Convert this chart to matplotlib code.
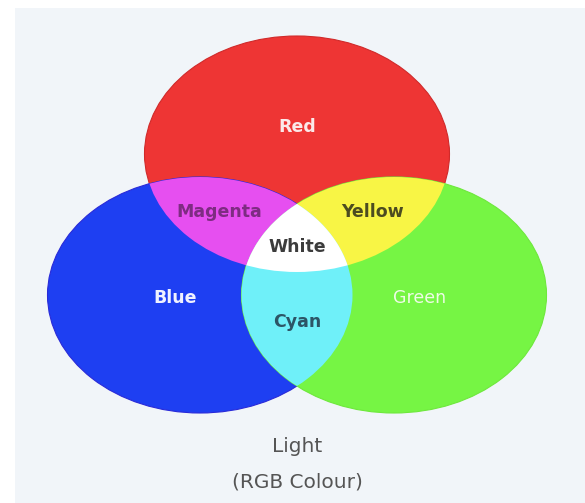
import numpy as np
import matplotlib
matplotlib.use("Agg")
import matplotlib.pyplot as plt
from matplotlib.patches import Ellipse, Rectangle, Polygon

# ---- data ----
primary_names = ["Red", "Blue", "Green"]
primary_colors = ["#ee3534", "#1e3ff2", "#76f544"]
pair_names = ["Magenta", "Yellow", "Cyan"]
pair_colors = ["#e64ff0", "#f8f545", "#6ff0f9"]
center_name = "White"
center_color = "#ffffff"
title_lines = ["Light", "(RGB Colour)"]

# ---- layout (pixel coordinates) ----
W, H = 585, 503
ell_w, ell_h = 305, 236
centers = {"Red": (297, 154), "Blue": (200, 295), "Green": (394, 295)}

fig = plt.figure(figsize=(W / 100, H / 100), dpi=100)
ax = fig.add_axes([0, 0, 1, 1])
ax.set_xlim(0, W)
ax.set_ylim(H, 0)
ax.axis("off")
fig.patch.set_facecolor("white")
ax.add_patch(Rectangle((15, 8), W - 15, H - 8, facecolor="#f1f5f9", edgecolor="none", zorder=0))

edge_cols = {"Red": "#d02a2a", "Blue": "#2a2ad8", "Green": "#6ee83c"}

def make_ell(name, **kw):
    return Ellipse(centers[name], ell_w, ell_h, **kw)

ells = {}
for n, c in zip(primary_names, primary_colors):
    e = make_ell(n, facecolor=c, edgecolor=edge_cols[n], lw=0.8, zorder=1)
    ax.add_patch(e)
    ells[n] = e

pairs = [("Red", "Blue"), ("Red", "Green"), ("Green", "Blue")]
for (a, b), col in zip(pairs, pair_colors):
    p = make_ell(a, facecolor=col, edgecolor="none", zorder=2)
    ax.add_patch(p)
    p.set_clip_path(ells[b])

# Blue ∩ Green polygon, clipped by Red
def ell_pts(name, n=720):
    t = np.linspace(0, 2 * np.pi, n, endpoint=False)
    cx, cy = centers[name]
    return np.column_stack([cx + ell_w / 2 * np.cos(t), cy + ell_h / 2 * np.sin(t)])

def inside(name, pts):
    cx, cy = centers[name]
    return ((pts[:, 0] - cx) / (ell_w / 2)) ** 2 + ((pts[:, 1] - cy) / (ell_h / 2)) ** 2 <= 1.0

pb, pg = ell_pts("Blue"), ell_pts("Green")
pts = np.vstack([pb[inside("Green", pb)], pg[inside("Blue", pg)]])
c0 = pts.mean(axis=0)
order = np.argsort(np.arctan2(pts[:, 1] - c0[1], pts[:, 0] - c0[0]))
wpoly = Polygon(pts[order], closed=True, facecolor=center_color, edgecolor="none", zorder=3)
ax.add_patch(wpoly)
wpoly.set_clip_path(ells["Red"])

font = ["DejaVu Sans"]
labels = [
    ("Red", 297, 127, "#fbe9e9", "bold"),
    ("Blue", 175, 298, "#f0f2ff", "bold"),
    ("Green", 420, 298, "#eefbe6", "normal"),
    ("Magenta", 219, 212, "#7e2c82", "bold"),
    ("Yellow", 373, 212, "#4c4c20", "bold"),
    ("Cyan", 297, 322, "#2c5566", "bold"),
    ("White", 297, 247, "#3c3c3c", "bold"),
]
for txt, x, y, col, fw in labels:
    ax.text(x, y, txt, ha="center", va="center", fontsize=12.5, fontweight=fw,
            color=col, family=font, zorder=5)

ax.text(297, 446, title_lines[0], ha="center", va="center", fontsize=14.5,
        color="#555555", family=font, zorder=5)
ax.text(297, 482, title_lines[1], ha="center", va="center", fontsize=14.5,
        color="#555555", family=font, zorder=5)

fig.savefig("out.png", dpi=100)
